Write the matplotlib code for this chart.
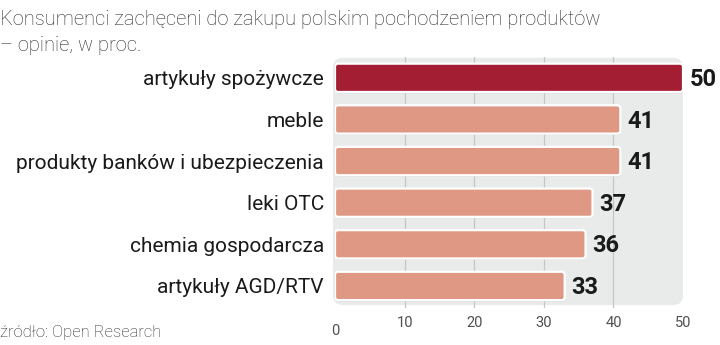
import numpy as np
import matplotlib
matplotlib.use('Agg')
import matplotlib.pyplot as plt
from matplotlib.patches import FancyBboxPatch

# dane
kategorie = ['artykuły spożywcze', 'meble', 'produkty banków i ubezpieczenia',
             'leki OTC', 'chemia gospodarcza', 'artykuły AGD/RTV']
wartosci = [50, 41, 41, 37, 36, 33]
ticki = [0, 10, 20, 30, 40, 50]

tytul = ['Konsumenci zachęceni do zakupu polskim pochodzeniem produktów',
         '– opinie, w proc.']
zrodlo = 'źródło: Open Research'

kolor_top = '#a31d33'
kolor_bar = '#df9883'
kolor_tla = '#e9eaea'

fig = plt.figure(figsize=(7.2, 3.45), dpi=100)
# osie: x 335..683 px, y 57..308 px
ax = fig.add_axes([335/720, 1 - 308/345, 348/720, 251/345])

y = np.arange(len(kategorie))
ax.set_xlim(0, 50)
ax.set_ylim(5.53, -0.50)

# skala px -> dane
x_px = 50/348
y_px = 1/41.6

# szare tło z zaokrąglonymi rogami
tlo = FancyBboxPatch((-2*x_px, -0.48), 50 + 2*x_px, 5.94,
                     boxstyle='round,pad=0,rounding_size=%f' % (10*x_px),
                     mutation_aspect=y_px/x_px,
                     facecolor=kolor_tla, edgecolor='none', zorder=0,
                     clip_on=False)
ax.add_patch(tlo)

# linie siatki
for t in ticki[1:-1]:
    ax.axvline(t, color='#c4c6c6', lw=0.9, zorder=1)

kolory = [kolor_top] + [kolor_bar]*(len(wartosci)-1)
for i, (v, c) in enumerate(zip(wartosci, kolory)):
    # cień
    cien = FancyBboxPatch((0.05, i - 0.34 + 0.03), v, 0.68,
                          boxstyle='round,pad=0,rounding_size=%f' % (3*x_px),
                          mutation_aspect=y_px/x_px,
                          facecolor='#c9c9c9', edgecolor='none', zorder=2)
    ax.add_patch(cien)
    bar = FancyBboxPatch((0, i - 0.34), v, 0.68,
                         boxstyle='round,pad=0,rounding_size=%f' % (3*x_px),
                         mutation_aspect=y_px/x_px,
                         facecolor=c, edgecolor='white', lw=1.6, zorder=3)
    ax.add_patch(bar)
    ax.text(v + 7*x_px, i + 0.04, str(v), ha='left', va='center',
            family='Roboto', fontweight='bold', fontsize=17,
            color='#1a1a1a', clip_on=False)

ax.set_yticks(y)
ax.set_yticklabels(kategorie, family='Roboto', fontsize=15, color='#1a1a1a')
ax.tick_params(axis='y', length=0, pad=8)

ax.set_xticks(ticki[1:])
ax.set_xticklabels([str(t) for t in ticki[1:]], family='Roboto', fontsize=10.5,
                   color='#505050')
ax.tick_params(axis='x', length=0, pad=6)
# "0" jest niżej niż pozostałe
ax.text(ticki[0], 5.53 + 23*y_px, str(ticki[0]), ha='center', va='center',
        family='Roboto', fontsize=10.5, color='#505050')

for s in ax.spines.values():
    s.set_visible(False)
ax.set_facecolor('none')

fig.text(0.0, 1 - 25/345, tytul[0], ha='left', va='baseline', family='Roboto',
         fontweight='light', fontsize=14.5, color='#2a2a2a')
fig.text(0.0, 1 - 51/345, tytul[1], ha='left', va='baseline', family='Roboto',
         fontweight='light', fontsize=14.5, color='#2a2a2a')
fig.text(0.0, 1 - 332/345, zrodlo, ha='left', va='center', family='Roboto',
         fontweight='light', fontsize=12, color='#2a2a2a')

fig.savefig('out.png', dpi=100)
